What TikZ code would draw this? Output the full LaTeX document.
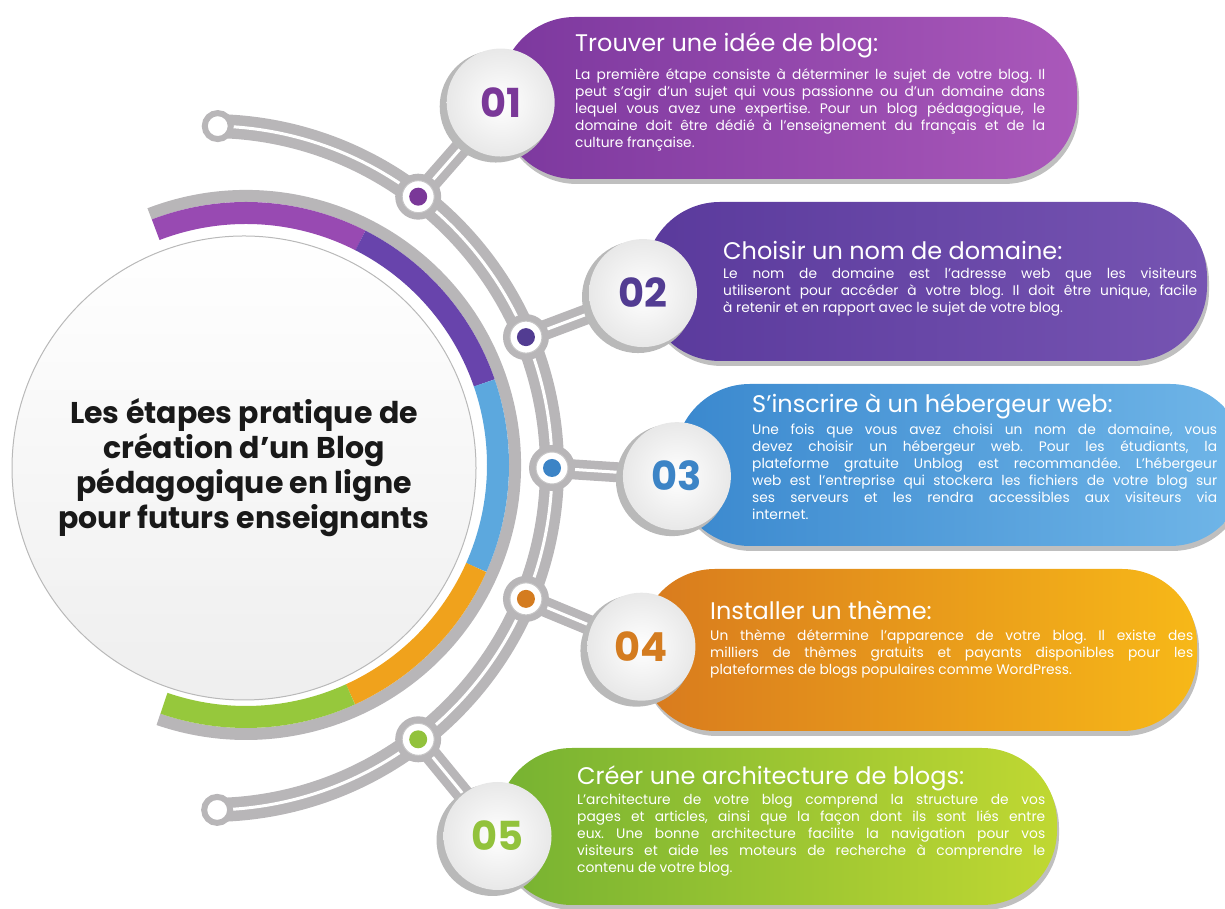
\documentclass[tikz,border=0pt]{standalone}
\usepackage{fontspec}
\setmainfont{Poppins}
\usetikzlibrary{calc}

\definecolor{purA}{RGB}{124,56,158}
\definecolor{purB}{RGB}{170,88,186}
\definecolor{indA}{RGB}{90,58,156}
\definecolor{indB}{RGB}{118,84,178}
\definecolor{bluA}{RGB}{58,136,206}
\definecolor{bluB}{RGB}{112,182,232}
\definecolor{orgA}{RGB}{216,122,30}
\definecolor{orgB}{RGB}{247,184,24}
\definecolor{grnA}{RGB}{118,178,50}
\definecolor{grnB}{RGB}{192,216,50}
\definecolor{purT}{RGB}{122,56,152}
\definecolor{indT}{RGB}{82,60,146}
\definecolor{bluT}{RGB}{60,132,198}
\definecolor{orgT}{RGB}{212,124,32}
\definecolor{grnT}{RGB}{146,194,60}
\definecolor{ringP}{RGB}{152,74,178}
\definecolor{ringI}{RGB}{104,68,172}
\definecolor{ringB}{RGB}{92,168,222}
\definecolor{ringO}{RGB}{240,162,28}
\definecolor{ringG}{RGB}{150,200,60}
\definecolor{trk}{RGB}{184,182,184}

\newcommand{\hfont}{\fontsize{24}{26}\selectfont}
\newcommand{\bfont}{\fontsize{13.8}{17}\selectfont\frenchspacing\tolerance=10000\hyphenpenalty=10000}
\newcommand{\nfont}{\fontsize{40}{40}\selectfont\bfseries}
\newcommand{\hubfont}{\fontsize{30}{35}\selectfont\bfseries}

\tikzset{
  banner/.style={rounded corners=75pt, left color=#1A, right color=#1B},
  bshadow/.style={rounded corners=75pt, fill=black, opacity=.25},
  track/.style={line width=24pt, draw=trk},
  trackcore/.style={line width=3pt, draw=white},
  conn/.style={line width=20pt, draw=trk},
  conncore/.style={line width=3pt, draw=white},
  knob/.style={circle, fill=white, draw=trk, line width=6pt, minimum size=26pt, inner sep=0},
  dot/.style={circle, fill=white, draw=trk!80, line width=1pt, minimum size=32pt, inner sep=0,
    path picture={\fill[#1] (path picture bounding box.center) circle (9pt);}},
  num/.style={circle, minimum size=108pt, inner sep=0, inner color=white, outer color=gray!18, font=\nfont},
  htxt/.style={text=white, font=\hfont, inner sep=0, anchor=base west},
  btxt/.style={text=white, font=\bfont, inner sep=0, align=justify, anchor=north west}
}

\begin{document}
\begin{tikzpicture}[x=1pt,y=1pt]
 \clip (0,0) rectangle (1225,909);
 \coordinate (trk) at (210,441);
 \coordinate (rc) at (246,444);
 % banners
 \foreach \i/\col/\xa/\xb/\ya/\yb in {1/pur/500/1077/730/892,2/ind/645/1207/548/707,
     3/blu/675/1245/363/525,4/org/640/1197/178/340,5/grn/497/1057/4/161}{
   \fill[bshadow] (\xa+2,\ya-5) rectangle (\xb+2,\yb-5);
   \path[banner=\col] (\xa,\ya) rectangle (\xb,\yb);
 }
 % central circle
 \node[circle, minimum size=464pt, inner sep=0, top color=white, middle color=white,
   bottom color=gray!13, draw=gray!55, line width=1pt, align=center, font=\hubfont,
   text=black!90] (hub) at (244,441)
   {Les étapes pratique de\\création d'un Blog\\pédagogique en ligne\\pour futurs enseignants};
 % coloured ring
 \draw[line width=12pt, trk] ($(rc)+(111:269)$) arc[start angle=111, end angle=-109, radius=269];
 \foreach \ang/\angb/\col in {111/63/ringP,63/19/ringI,19/-24/ringB,-24/-65.5/ringO,-65.5/-109/ringG}
   {\draw[line width=22pt, \col] ($(rc)+(\ang:252)$) arc[start angle=\ang, end angle=\angb, radius=252];}
 % track
 \draw[track] ($(trk)+(88.7:342)$) arc[start angle=88.7, end angle=-88.8, radius=342];
 \draw[trackcore] ($(trk)+(88.7:342)$) arc[start angle=88.7, end angle=-88.8, radius=342];
 \node[knob] (k1) at ($(trk)+(88.7:342)$) {};
 \node[knob] (k2) at ($(trk)+(-88.8:342)$) {};
 % steps
 \foreach \i/\ang/\angb/\col/\lbl in {1/52.5/51.5/pur/01,2/22.5/22/ind/02,3/0/-1/blu/03,
     4/-22.5/-22.5/org/04,5/-52.5/-52/grn/05}{
   \coordinate (p\i) at ($(trk)+(\ang:342)$);
   \coordinate (q\i) at ($(trk)+(\angb:467)$);
   \draw[conn] (p\i) -- (q\i);
   \draw[conncore] (p\i) -- (q\i);
   \fill[trk] (p\i) circle (23);
   \node[dot=\col T] (d\i) at (p\i) {};
   \fill[gray!55] ($(q\i)+(-5,-4)$) circle (56);
   \node[num, text=\col T] (n\i) at (q\i) {\lbl};
 }
 % texts
 \node[htxt] (h1) at (575,857) {Trouver une idée de blog:};
 \node[btxt, text width=470pt] (b1) at (575,840)
   {La première étape consiste à déterminer le sujet de votre blog. Il\linebreak
    peut s'agir d'un sujet qui vous passionne ou d'un domaine dans\linebreak
    lequel vous avez une expertise. Pour un blog pédagogique, le\linebreak
    domaine doit être dédié à l'enseignement du français et de la\linebreak
    culture française.};
 \node[htxt] (h2) at (723,649) {Choisir un nom de domaine:};
 \node[btxt, text width=474pt] (b2) at (723,641)
   {Le nom de domaine est l'adresse web que les visiteurs\linebreak
    utiliseront pour accéder à votre blog. Il doit être unique, facile\linebreak
    à retenir et en rapport avec le sujet de votre blog.};
 \node[htxt] (h3) at (752,496) {S'inscrire à un hébergeur web:};
 \node[btxt, text width=465pt] (b3) at (752,485)
   {Une fois que vous avez choisi un nom de domaine, vous\linebreak
    devez choisir un hébergeur web. Pour les étudiants, la\linebreak
    plateforme gratuite Unblog est recommandée. L'hébergeur\linebreak
    web est l'entreprise qui stockera les fichiers de votre blog sur\linebreak
    ses serveurs et les rendra accessibles aux visiteurs via\linebreak
    internet.};
 \node[htxt] (h4) at (710,289) {Installer un thème:};
 \node[btxt, text width=483pt] (b4) at (710,279)
   {Un thème détermine l'apparence de votre blog. Il existe des\linebreak
    milliers de thèmes gratuits et payants disponibles pour les\linebreak
    plateformes de blogs populaires comme WordPress.};
 \node[htxt] (h5) at (577,124) {Créer une architecture de blogs:};
 \node[btxt, text width=468pt] (b5) at (577,115)
   {L'architecture de votre blog comprend la structure de vos\linebreak
    pages et articles, ainsi que la façon dont ils sont liés entre\linebreak
    eux. Une bonne architecture facilite la navigation pour vos\linebreak
    visiteurs et aide les moteurs de recherche à comprendre le\linebreak
    contenu de votre blog.};
\end{tikzpicture}
\end{document}
